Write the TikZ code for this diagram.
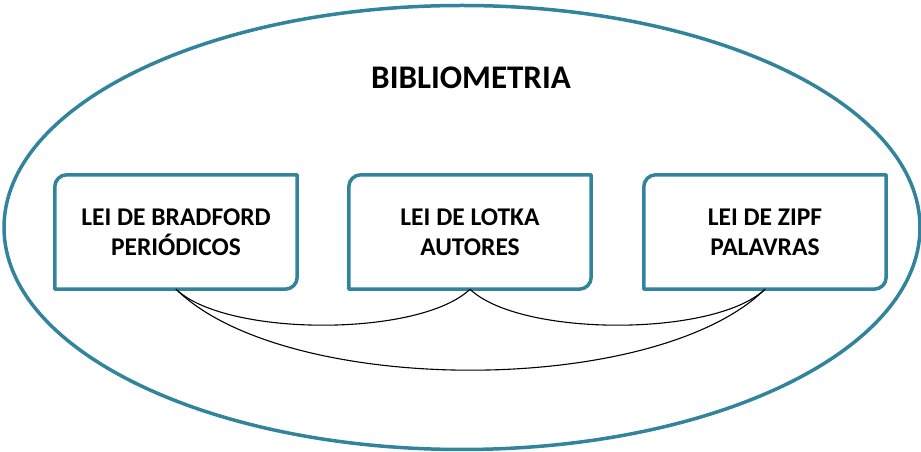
\documentclass[tikz,border=0pt]{standalone}
\usepackage{fontspec}
\setmainfont{Carlito}
\usetikzlibrary{shapes.geometric}
\definecolor{teal1}{HTML}{31849B}
\begin{document}
\begin{tikzpicture}[x=1pt,y=1pt,
  lawbox/.style={minimum width=242pt,minimum height=114pt,inner sep=0pt,align=center,
    font=\fontsize{25.5}{30}\selectfont\bfseries},
  outline/.style={draw=teal1,line width=3.5pt},
  link/.style={draw=black,line width=1.1pt}]
\useasboundingbox (0,0) rectangle (921,452);
\node[draw=teal1,line width=3.5pt,ellipse,minimum width=916pt,minimum height=444pt,inner sep=0pt] (ell) at (462,224.5) {};
\node[font=\fontsize{33}{36}\selectfont\bfseries] (title) at (471,374) {BIBLIOMETRIA};
\node[lawbox] (brad) at (176,220) {LEI DE BRADFORD\\PERIÓDICOS};
\node[lawbox] (lotka) at (470,220) {LEI DE LOTKA\\AUTORES};
\node[lawbox] (zipf) at (765,220) {LEI DE ZIPF\\PALAVRAS};
\foreach \b in {brad,lotka,zipf}{
  \draw[outline,line join=round] (\b.north east) -- ([yshift=12pt]\b.south east)
    arc[start angle=0,end angle=-90,radius=12pt] -- (\b.south west)
    -- ([yshift=-12pt]\b.north west) arc[start angle=180,end angle=90,radius=12pt] -- cycle;
}
\draw[link] (brad.south) .. controls ([xshift=50pt,yshift=-48pt]brad.south) and ([xshift=-50pt,yshift=-48pt]lotka.south) .. (lotka.south);
\draw[link] (lotka.south) .. controls ([xshift=50pt,yshift=-48pt]lotka.south) and ([xshift=-50pt,yshift=-48pt]zipf.south) .. (zipf.south);
\draw[link] (brad.south) .. controls ([xshift=110pt,yshift=-108pt]brad.south) and ([xshift=-110pt,yshift=-108pt]zipf.south) .. (zipf.south);
\end{tikzpicture}
\end{document}
